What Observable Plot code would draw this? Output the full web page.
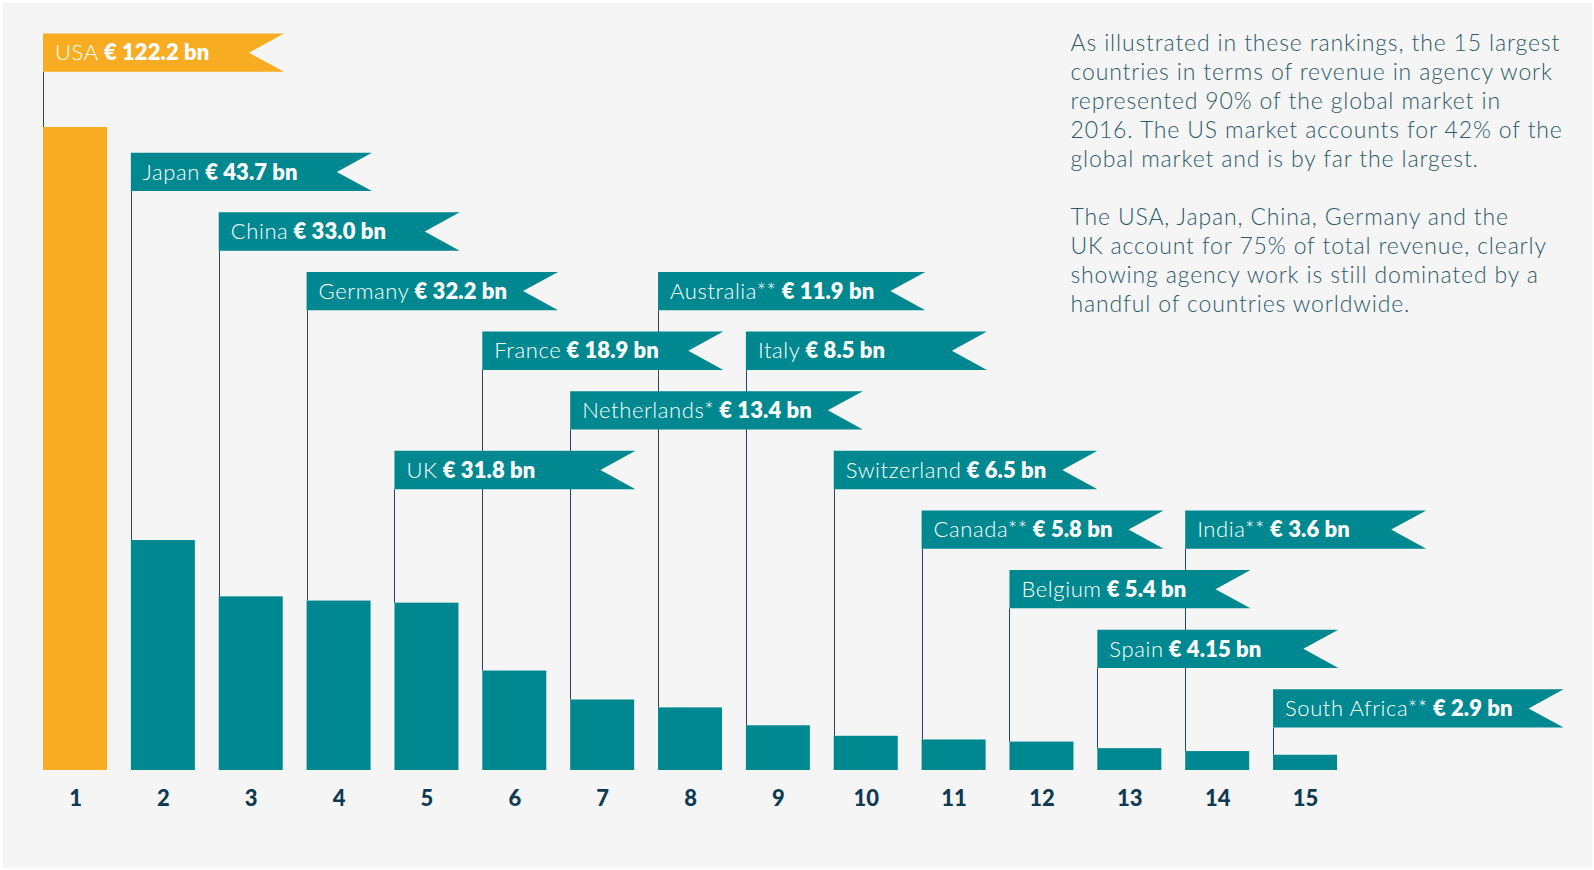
<!DOCTYPE html>
<html>
<head>
<meta charset="utf-8">
<script src="https://cdn.jsdelivr.net/npm/d3@7"></script>
<script src="https://cdn.jsdelivr.net/npm/@observablehq/plot@0.6"></script>
<style>
  html, body { margin: 0; padding: 0; background: #ffffff; }
  #chart svg { display: block; }
  #chart g[font-weight="300"] text { letter-spacing: 0.85px; }
</style>
</head>
<body>
<div id="chart"></div>
<script>
// ---------------- DATA ----------------
const ranks = [1, 2, 3, 4, 5, 6, 7, 8, 9, 10, 11, 12, 13, 14, 15];
const countries = ["USA", "Japan", "China", "Germany", "UK", "France", "Netherlands*", "Australia**",
  "Italy", "Switzerland", "Canada**", "Belgium", "Spain", "India**", "South Africa**"];
const revenues = [122.2, 43.7, 33.0, 32.2, 31.8, 18.9, 13.4, 11.9, 8.5, 6.5, 5.8, 5.4, 4.15, 3.6, 2.9];
const revenueLabels = ["€ 122.2 bn", "€ 43.7 bn", "€ 33.0 bn", "€ 32.2 bn", "€ 31.8 bn", "€ 18.9 bn",
  "€ 13.4 bn", "€ 11.9 bn", "€ 8.5 bn", "€ 6.5 bn", "€ 5.8 bn", "€ 5.4 bn", "€ 4.15 bn", "€ 3.6 bn", "€ 2.9 bn"];
// which annotation row each flag label sits in (0 = top row)
const labelRows = [0, 2, 3, 4, 7, 5, 6, 4, 5, 7, 8, 9, 10, 8, 11];
const highlighted = "USA";
const noteLines = [
  "As illustrated in these rankings, the 15 largest",
  "countries in terms of revenue in agency work",
  "represented 90% of the global market in",
  "2016. The US market accounts for 42% of the",
  "global market and is by far the largest.",
  "",
  "The USA, Japan, China, Germany and the",
  "UK account for 75% of total revenue, clearly",
  "showing agency work is still dominated by a",
  "handful of countries worldwide."
];

const data = ranks.map((r, i) => ({
  rank: r, country: countries[i], value: revenues[i], label: revenueLabels[i], row: labelRows[i]
}));

// ---------------- STYLE / LAYOUT ----------------
const ORANGE = "#F8AC22";
const TEAL = "#008891";
const NAVY = "#0e3b50";
const FONT = "Lato, 'Open Sans', sans-serif";
const FLAG_H = 38.3, NOTCH = 35, FLAG_FS = 22, MIN_FLAG_W = 241;
const NAME_LS = 0.6, VALUE_LS = 0.1;

// hidden svg used to measure label widths
const measSvg = d3.select("body").append("svg")
  .attr("width", 10).attr("height", 10)
  .style("position", "absolute").style("left", "-9999px").style("visibility", "hidden");

function fillLabel(t, d) {
  t.attr("font-family", FONT).attr("font-size", FLAG_FS).attr("text-anchor", "start");
  t.append("tspan").attr("font-weight", 300).attr("letter-spacing", NAME_LS).text(d.country);
  t.append("tspan").attr("font-weight", 800).attr("letter-spacing", VALUE_LS).text(" " + d.label);
}
function labelWidth(d) {
  const t = measSvg.append("text");
  fillLabel(t, d);
  const w = t.node().getComputedTextLength();
  t.remove();
  return w;
}

function flagsMark(index, scales) {
  const x = scales.x, y = scales.y;
  const rowScale = d3.scaleLinear().domain([0, 11]).range([33.5, 689.3]);
  const g = d3.create("svg:g").attr("text-anchor", "start");
  // connector lines from each flag down to the top of its bar
  for (const d of data) {
    const left = Math.round(x(d.rank)) + 0.5;
    g.append("line")
      .attr("x1", left).attr("x2", left)
      .attr("y1", rowScale(d.row) + FLAG_H)
      .attr("y2", y(d.value))
      .attr("stroke", "#24485a")
      .attr("stroke-width", 1);
  }
  // flags
  for (const d of data) {
    const left = x(d.rank);
    const top = rowScale(d.row);
    const w = Math.max(MIN_FLAG_W, 12 + labelWidth(d) + 16 + NOTCH);
    const r = left + w;
    const pts = [[left, top], [r, top], [r - NOTCH, top + FLAG_H / 2], [r, top + FLAG_H], [left, top + FLAG_H]];
    g.append("polygon")
      .attr("points", pts.map(p => p.join(",")).join(" "))
      .attr("fill", d.country === highlighted ? ORANGE : TEAL);
    const t = g.append("text")
      .attr("x", left + 12)
      .attr("y", top + FLAG_H / 2 + 0.35 * FLAG_FS)
      .attr("fill", "#ffffff");
    fillLabel(t, d);
  }
  return g.node();
}

const chart = Plot.plot({
  width: 1594,
  height: 870,
  margin: 0,
  style: { background: "#f5f5f5", fontFamily: FONT },
  x: { type: "band", domain: ranks, range: [19.14, 1360.9], padding: 0.2716, round: false, axis: null },
  y: { domain: [0, 122.2], range: [770, 127], axis: null },
  marks: [
    Plot.rectY(data, {
      x: "rank", y: "value",
      fill: d => d.country === highlighted ? ORANGE : TEAL
    }),
    flagsMark,
    Plot.text(data, {
      x: "rank", y: 0, dy: 28,
      text: d => String(d.rank),
      fontSize: 22, fontWeight: 900, fill: NAVY
    }),
    Plot.text([noteLines.join("\n")], {
      text: d => d,
      frameAnchor: "top-left", textAnchor: "start", lineAnchor: "top",
      dx: 1070, dy: 30,
      fontSize: 23, fontWeight: 300, lineHeight: 29 / 23,
      fill: "#2d5a6b"
    }),
    Plot.frame({ stroke: "#ffffff", strokeWidth: 4 })
  ]
});

document.getElementById("chart").appendChild(chart);
</script>
</body>
</html>
